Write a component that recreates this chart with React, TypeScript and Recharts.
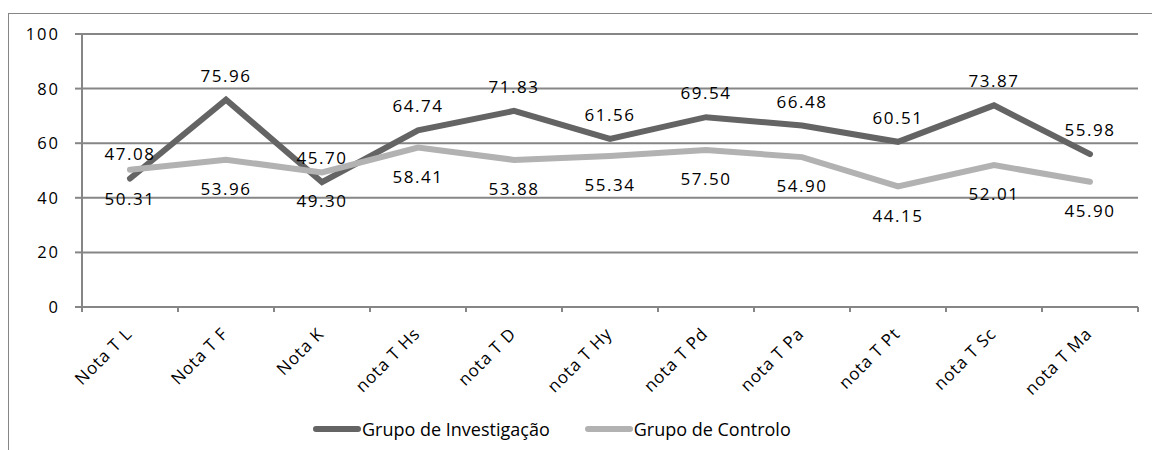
import React from "react";
import { CartesianGrid, LabelList, Legend, Line, LineChart, XAxis, YAxis } from "recharts";

const categories = [
  "Nota T L",
  "Nota T F",
  "Nota K",
  "nota T Hs",
  "nota T D",
  "nota T Hy",
  "nota T Pd",
  "nota T Pa",
  "nota T Pt",
  "nota T Sc",
  "nota T Ma",
];
const investigacao = [47.08, 75.96, 45.7, 64.74, 71.83, 61.56, 69.54, 66.48, 60.51, 73.87, 55.98];
const controlo = [50.31, 53.96, 49.3, 58.41, 53.88, 55.34, 57.5, 54.9, 44.15, 52.01, 45.9];
const yTicks = [0, 20, 40, 60, 80, 100];
const seriesNames = ["Grupo de Investigação", "Grupo de Controlo"];

// Excel-ish greys
const DARK = "#646464";
const LIGHT = "#b2b2b2";
const GRID = "#868686";
const SERIES_COLORS = [DARK, LIGHT];
const FONT = "'Open Sans', 'Noto Sans', sans-serif";

const W = 1152;
const H = 450;
const MARGIN = { top: 34, right: 14, bottom: 43, left: 0 };
const Y_W = 82;
const BAND = (W - MARGIN.left - MARGIN.right - Y_W) / categories.length;

const data = categories.map((name, i) => ({
  name,
  inv: investigacao[i],
  ctl: controlo[i],
}));

const fmt = (v: any) => Number(v).toFixed(2);

// tick marks sit on category boundaries, labels rotated like Excel
function CategoryTick({ x, y, payload, index }: any) {
  const tx = x + 3;
  const ty = y + 28;
  const last = index === categories.length - 1;
  return (
    <g>
      <line x1={x - BAND / 2} x2={x - BAND / 2} y1={y} y2={y + 5} stroke={GRID} strokeWidth={2} />
      {last && <line x1={x + BAND / 2} x2={x + BAND / 2} y1={y} y2={y + 5} stroke={GRID} strokeWidth={2} />}
      <text
        x={tx}
        y={ty}
        transform={`rotate(-45 ${tx} ${ty})`}
        textAnchor="end"
        fontSize={17}
        letterSpacing={0.8}
        fontFamily={FONT}
        fill="#000"
      >
        {payload.value}
      </text>
    </g>
  );
}

function ValueTick({ x, y, payload }: any) {
  return (
    <text x={x} y={y} dy={6} textAnchor="end" fontSize={16.5} letterSpacing={2} fontFamily={FONT} fill="#000">
      {payload.value}
    </text>
  );
}

// keep series order (recharts sorts legend items by name otherwise)
function LegendContent() {
  return (
    <div style={{ display: "flex", alignItems: "center", fontFamily: FONT, fontSize: 18, color: "#000" }}>
      {seriesNames.map((name, i) => (
        <div key={name} style={{ display: "flex", alignItems: "center", marginRight: 35 }}>
          <span
            style={{
              display: "inline-block",
              width: 48,
              height: 6,
              borderRadius: 3,
              background: SERIES_COLORS[i],
            }}
          />
          <span style={{ marginLeft: 1 }}>{name}</span>
        </div>
      ))}
    </div>
  );
}

export default function App() {
  return (
    <div style={{ position: "fixed", inset: 0, overflow: "hidden", background: "#fff" }}>
      <div
        style={{
          position: "absolute",
          left: 8,
          top: 13,
          width: 1200,
          height: 500,
          border: `1px solid ${GRID}`,
        }}
      />
      <div style={{ position: "absolute", left: 0, top: 0 }}>
        <LineChart width={W} height={H} data={data} margin={MARGIN}>
          <CartesianGrid vertical={false} stroke={GRID} strokeWidth={2} />
          <XAxis
            dataKey="name"
            interval={0}
            padding={{ left: BAND / 2, right: BAND / 2 }}
            height={100}
            tickSize={0}
            tickMargin={0}
            tickLine={false}
            axisLine={{ stroke: GRID, strokeWidth: 2 }}
            tick={<CategoryTick />}
          />
          <YAxis
            width={Y_W}
            domain={[0, 100]}
            ticks={yTicks}
            interval={0}
            tickSize={7}
            tickMargin={15}
            axisLine={{ stroke: GRID, strokeWidth: 2 }}
            tickLine={{ stroke: GRID, strokeWidth: 2 }}
            tick={<ValueTick />}
          />
          <Legend
            layout="horizontal"
            verticalAlign="middle"
            align="center"
            wrapperStyle={{ left: 313, top: 417, width: "auto" }}
            content={<LegendContent />}
          />
          <Line
            dataKey="inv"
            name={seriesNames[0]}
            stroke={DARK}
            strokeWidth={6}
            strokeLinecap="round"
            dot={false}
            activeDot={false}
            isAnimationActive={false}
          >
            <LabelList
              dataKey="inv"
              position="top"
              offset={18}
              formatter={fmt}
              fill="#000"
              fontSize={17}
              fontFamily={FONT}
              letterSpacing={1.5}
            />
          </Line>
          <Line
            dataKey="ctl"
            name={seriesNames[1]}
            stroke={LIGHT}
            strokeWidth={6}
            strokeLinecap="round"
            dot={false}
            activeDot={false}
            isAnimationActive={false}
          >
            <LabelList
              dataKey="ctl"
              position="bottom"
              offset={23}
              formatter={fmt}
              fill="#000"
              fontSize={17}
              fontFamily={FONT}
              letterSpacing={1.5}
            />
          </Line>
        </LineChart>
      </div>
    </div>
  );
}
